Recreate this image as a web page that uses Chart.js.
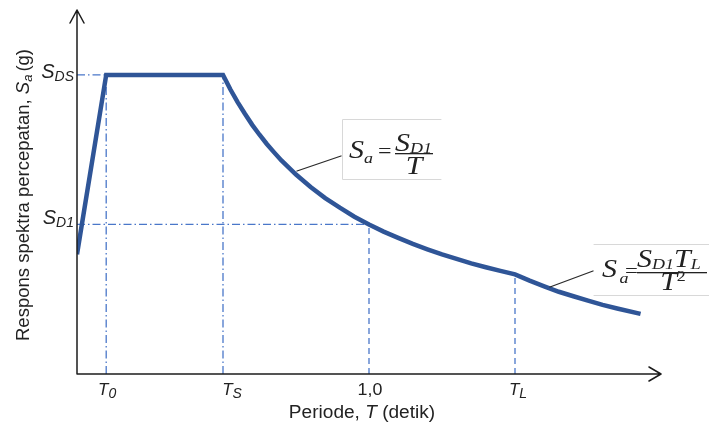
<!DOCTYPE html>
<html>
<head>
<meta charset="utf-8">
<title>Respons spektra percepatan desain</title>
<script src="https://cdn.jsdelivr.net/npm/chart.js@4/dist/chart.umd.min.js"></script>
<style>
  html, body { margin: 0; padding: 0; background: #ffffff; }
  #wrap { width: 709px; height: 426px; }
</style>
</head>
<body>
<div id="wrap"><canvas id="spectrum" width="709" height="426"></canvas></div>
<script>
// Design response spectrum: period T (s) against spectral acceleration Sa (relative to S_DS)
const periods = [0.00, 0.10, 0.50, 0.525, 0.55, 0.575, 0.60, 0.625, 0.65, 0.675, 0.70, 0.75,
                 0.80, 0.85, 0.90, 0.95, 1.00, 1.05, 1.10, 1.15, 1.20, 1.25, 1.30, 1.35,
                 1.40, 1.45, 1.50, 1.55, 1.60, 1.65, 1.70, 1.75, 1.80, 1.85, 1.93];
const accel   = [0.400, 1.000, 1.000, 0.952, 0.909, 0.870, 0.833, 0.800, 0.769, 0.741, 0.714, 0.667,
                 0.625, 0.588, 0.556, 0.526, 0.500, 0.476, 0.455, 0.435, 0.417, 0.400, 0.385, 0.370,
                 0.357, 0.345, 0.333, 0.312, 0.293, 0.275, 0.260, 0.245, 0.231, 0.219, 0.201];

// Characteristic periods and spectral levels
const periodTicks = [0.10, 0.50, 1.00, 1.50];        // T0, TS, 1,0, TL
const periodTickNames = ['T0', 'TS', '1,0', 'TL'];
const levelTicks = [1.00, 0.50];                      // S_DS, S_D1
const levelTickNames = ['SDS', 'SD1'];

const T0 = periodTicks[0], TS = periodTicks[1], T1 = periodTicks[2], TL = periodTicks[3];
const SDS = levelTicks[0], SD1 = levelTicks[1];
const SA_AT_TL = 0.333;

const X_MAX = 2.0;
const Y_MAX = 1.217;

const CURVE = '#2f5597';
const GUIDE = '#4a77c9';
const DASH_DOT = [8, 3, 1.5, 3];
const DASH = [6, 4];

function guide(points, dash) {
  return {
    data: points.map(p => ({ x: p[0], y: p[1] })),
    showLine: true,
    borderColor: GUIDE,
    borderWidth: 1.3,
    borderDash: dash,
    pointRadius: 0,
    fill: false,
    order: 2
  };
}

const SANS = '"Liberation Sans", Arial, sans-serif';
const SERIF = '"Liberation Serif", "Times New Roman", serif';

// Draws a run of text pieces with different fonts / baseline shifts,
// optionally stretched horizontally by sx
function drawRuns(ctx, parts, x, y, align, sx) {
  sx = sx || 1;
  let total = 0;
  const widths = parts.map(p => { ctx.font = p.font; const w = ctx.measureText(p.text).width + (p.gap || 0); total += w; return w; });
  let cx = 0;
  if (align === 'right') cx = -total;
  else if (align === 'center') cx = -total / 2;
  ctx.save();
  ctx.translate(x, y);
  ctx.scale(sx, 1);
  ctx.textBaseline = 'alphabetic';
  ctx.textAlign = 'left';
  parts.forEach((p, i) => {
    ctx.font = p.font;
    ctx.fillStyle = p.color || '#222';
    ctx.fillText(p.text, cx, p.dy || 0);
    cx += widths[i];
  });
  ctx.restore();
  return total * sx;
}

const decor = {
  id: 'decor',
  afterDraw(chart) {
    const ctx = chart.ctx;
    const xs = chart.scales.x, ys = chart.scales.y;
    const ox = xs.getPixelForValue(0), oy = ys.getPixelForValue(0);
    const xEnd = xs.getPixelForValue(X_MAX), yTop = ys.getPixelForValue(Y_MAX);

    ctx.save();
    // axes with open arrowheads
    ctx.strokeStyle = '#1c1c1c';
    ctx.lineWidth = 1.5;
    ctx.lineCap = 'round';
    ctx.lineJoin = 'round';
    ctx.beginPath();
    ctx.moveTo(ox, oy); ctx.lineTo(ox, yTop);
    ctx.moveTo(ox - 7, yTop + 13); ctx.lineTo(ox, yTop); ctx.lineTo(ox + 7, yTop + 13);
    ctx.moveTo(ox, oy); ctx.lineTo(xEnd, oy);
    ctx.moveTo(xEnd - 12, oy - 7); ctx.lineTo(xEnd, oy); ctx.lineTo(xEnd - 12, oy + 7);
    ctx.stroke();

    // level labels on the vertical axis
    const lvlOffsets = [3, 0];
    levelTicks.forEach((v, i) => {
      const name = levelTickNames[i];
      const py = ys.getPixelForValue(v) + lvlOffsets[i];
      drawRuns(ctx, [
        { text: name.charAt(0), font: 'italic 20px ' + SANS },
        { text: name.slice(1), font: 'italic 14px ' + SANS, dy: 3 }
      ], ox - 3, py, 'right');
    });

    // period labels below the horizontal axis
    const perShift = [1, 9, 1, 3];
    periodTicks.forEach((v, i) => {
      const name = periodTickNames[i];
      const px = xs.getPixelForValue(v) + perShift[i];
      if (name.charAt(0) === 'T') {
        drawRuns(ctx, [
          { text: 'T', font: 'italic 17px ' + SANS },
          { text: name.slice(1), font: 'italic 14px ' + SANS, dy: 3 }
        ], px, oy + 21, 'center');
      } else {
        drawRuns(ctx, [{ text: name, font: '17px ' + SANS }], px, oy + 21, 'center', 1.05);
      }
    });

    // axis titles
    drawRuns(ctx, [
      { text: 'Periode, ', font: '18px ' + SANS },
      { text: 'T', font: 'italic 18px ' + SANS, gap: 5 },
      { text: '(detik)', font: '18px ' + SANS }
    ], 362, 418, 'center', 1.06);

    ctx.save();
    ctx.translate(29, 195);
    ctx.rotate(-Math.PI / 2);
    drawRuns(ctx, [
      { text: 'Respons spektra percepatan, ', font: '18.5px ' + SANS },
      { text: 'S', font: 'italic 18.5px ' + SANS },
      { text: 'a', font: 'italic 13px ' + SANS, dy: 3, gap: 3 },
      { text: '(g)', font: '18.5px ' + SANS }
    ], 0, 0, 'center');
    ctx.restore();

    // formula callouts
    ctx.fillStyle = '#ffffff';
    ctx.fillRect(343, 120, 98, 59);
    ctx.fillRect(594, 245, 115, 50);
    ctx.strokeStyle = '#d8d8d8';
    ctx.lineWidth = 1;
    ctx.beginPath();
    ctx.moveTo(441, 119.5); ctx.lineTo(342.5, 119.5); ctx.lineTo(342.5, 179.5); ctx.lineTo(441, 179.5);
    ctx.moveTo(594, 244.5); ctx.lineTo(709, 244.5);
    ctx.moveTo(594, 295.5); ctx.lineTo(709, 295.5);
    ctx.stroke();

    ctx.strokeStyle = '#2a2a2a';
    ctx.lineWidth = 1.3;
    ctx.beginPath();
    ctx.moveTo(297, 171); ctx.lineTo(341, 156);
    ctx.moveTo(550, 287); ctx.lineTo(593, 271);
    ctx.stroke();

    const SX = 1.2;
    const big = 'italic 25px ' + SERIF, sub = 'italic 15px ' + SERIF;
    ctx.fillStyle = '#222';

    // Sa = SD1 / T
    drawRuns(ctx, [
      { text: 'S', font: big },
      { text: 'a', font: sub, dy: 5 }
    ], 349, 158, 'left', SX);
    drawRuns(ctx, [{ text: '=', font: '20px ' + SERIF }], 378, 158, 'left', SX);
    ctx.fillStyle = '#222';
    ctx.fillRect(395, 153, 38, 1.3);
    drawRuns(ctx, [
      { text: 'S', font: big },
      { text: 'D1', font: sub, dy: 2 }
    ], 395, 151, 'left', SX);
    drawRuns(ctx, [{ text: 'T', font: big }], 414, 174, 'center', SX);

    // Sa = SD1 TL / T^2
    drawRuns(ctx, [
      { text: 'S', font: big, gap: 2 },
      { text: 'a', font: sub, dy: 6 }
    ], 602, 277, 'left', SX);
    drawRuns(ctx, [{ text: '=', font: '19px ' + SERIF }], 625, 277, 'left', SX);
    ctx.fillStyle = '#222';
    ctx.fillRect(637, 272, 70, 1.3);
    drawRuns(ctx, [
      { text: 'S', font: big },
      { text: 'D1', font: sub, dy: 2 },
      { text: 'T', font: big },
      { text: 'L', font: sub, dy: 2 }
    ], 637, 267, 'left', SX);
    drawRuns(ctx, [
      { text: 'T', font: big },
      { text: '2', font: '15px ' + SERIF, dy: -9 }
    ], 673, 290, 'center', SX);

    ctx.restore();
  }
};

new Chart(document.getElementById('spectrum'), {
  type: 'scatter',
  data: {
    datasets: [
      {
        label: 'Sa',
        data: periods.map((t, i) => ({ x: t, y: accel[i] })),
        showLine: true,
        borderColor: CURVE,
        borderWidth: 4.5,
        borderJoinStyle: 'miter',
        borderCapStyle: 'butt',
        pointRadius: 0,
        tension: 0,
        fill: false,
        order: 1
      },
      guide([[0, SDS], [T0, SDS]], DASH_DOT),
      guide([[0, SD1], [T1, SD1]], DASH_DOT),
      guide([[T0, 0], [T0, SDS - 0.03]], DASH_DOT),
      guide([[TS, 0], [TS, SDS]], DASH_DOT),
      guide([[T1, 0], [T1, SD1]], DASH),
      guide([[TL, 0], [TL, SA_AT_TL]], DASH)
    ]
  },
  options: {
    responsive: false,
    animation: false,
    devicePixelRatio: 1,
    layout: { padding: { left: 77, right: 48, top: 10, bottom: 52 } },
    plugins: { legend: { display: false }, tooltip: { enabled: false } },
    scales: {
      x: { type: 'linear', min: 0, max: X_MAX, display: false },
      y: { type: 'linear', min: 0, max: Y_MAX, display: false }
    }
  },
  plugins: [decor]
});
</script>
</body>
</html>
